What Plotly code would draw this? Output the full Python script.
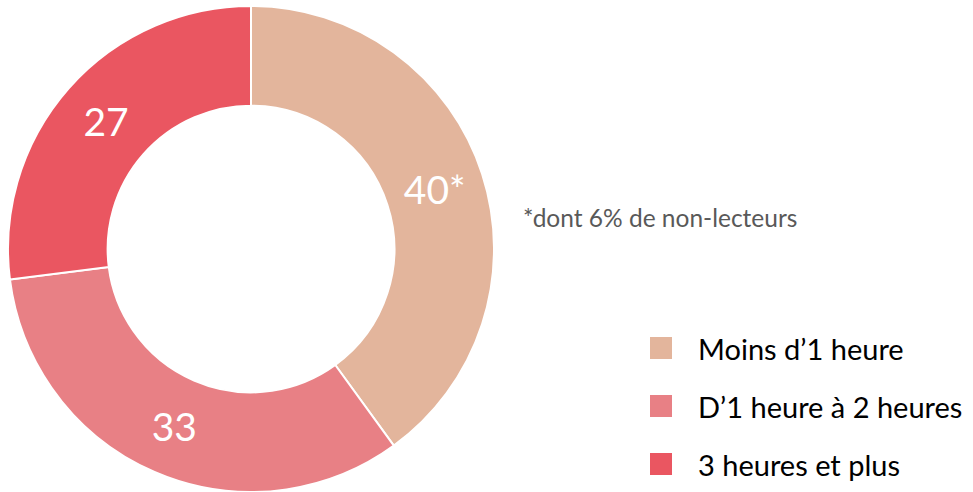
import plotly.graph_objects as go

categories = ["Moins d\u20191 heure", "D\u20191 heure à 2 heures", "3 heures et plus"]
values = [40, 33, 27]
value_labels = ["40*", "33", "27"]
colors = ["#E3B59C", "#E88085", "#EA5661"]
note = "*dont 6% de non-lecteurs"

W, H = 973, 492
FONT = "Lato"

fig = go.Figure()
fig.add_trace(go.Pie(
    labels=categories,
    values=values,
    text=value_labels,
    textinfo="text",
    hole=0.59,
    sort=False,
    direction="clockwise",
    rotation=0,
    marker=dict(colors=colors, line=dict(color="white", width=2)),
    insidetextfont=dict(color="white", size=39, family=FONT),
    textfont=dict(color="white", size=39, family=FONT),
    insidetextorientation="horizontal",
    showlegend=False,
    hoverinfo="label+value",
    domain=dict(x=[8 / W, 494 / W], y=[0, 486 / H]),
))

# note
fig.add_annotation(
    x=521 / W, y=1 - 217 / H, xref="paper", yref="paper",
    text=note, showarrow=False, xanchor="left", yanchor="middle",
    font=dict(size=24.5, color="#595959", family=FONT),
)

# custom legend
for i, (cat, col) in enumerate(zip(categories, colors)):
    yc = 348 + i * 58
    fig.add_shape(
        type="rect", xref="paper", yref="paper",
        x0=650 / W, x1=672 / W, y0=1 - (yc - 11) / H, y1=1 - (yc + 11) / H,
        fillcolor=col, line=dict(width=0),
    )
    fig.add_annotation(
        x=696 / W, y=1 - yc / H, xref="paper", yref="paper",
        text=cat, showarrow=False, xanchor="left", yanchor="middle",
        font=dict(size=29, color="#000000", family=FONT),
    )

fig.update_layout(
    width=W, height=H,
    margin=dict(l=0, r=0, t=0, b=0),
    paper_bgcolor="white", plot_bgcolor="white",
    font=dict(family=FONT),
)

fig.write_html(
    "out.html",
    config={"displayModeBar": False},
    post_script="document.body.style.margin='0';document.body.style.padding='0';",
)
